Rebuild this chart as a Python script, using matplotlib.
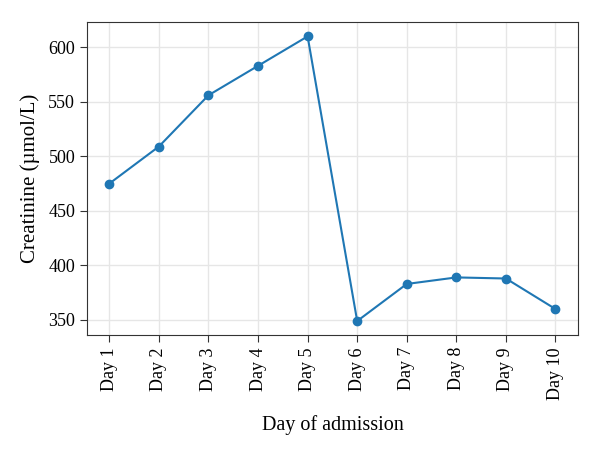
import matplotlib
matplotlib.use("Agg")
import matplotlib.pyplot as plt

# Creatinine per day of admission
days = ["Day 1", "Day 2", "Day 3", "Day 4", "Day 5",
        "Day 6", "Day 7", "Day 8", "Day 9", "Day 10"]
creatinine = [475, 509, 556, 583, 610, 349, 383, 389, 388, 360]
yticks = [350, 400, 450, 500, 550, 600]

plt.rcParams['font.family'] = ['Liberation Serif', 'DejaVu Serif']
plt.rcParams['font.size'] = 13

fig = plt.figure(figsize=(6, 4.53), dpi=100)
ax = fig.add_axes([0.145, 0.26, 0.818, 0.691])

x = list(range(len(days)))
ax.plot(x, creatinine, color='#1f77b4', marker='o', markersize=6, linewidth=1.5)

ax.set_xticks(x)
ax.set_xticklabels(days, rotation=90)
ax.set_yticks(yticks)
ax.set_xlim(-0.45, 9.45)
ax.set_ylim(336, 623)
ax.grid(True, color='#e6e6e6', linewidth=1)
ax.set_axisbelow(True)
for s in ax.spines.values():
    s.set_color('#333333')
ax.tick_params(color='#333333', length=5)

ax.set_xlabel('Day of admission', fontsize=14.5, labelpad=11)
ax.set_ylabel('Creatinine (µmol/L)', fontsize=15, labelpad=6)

fig.savefig('out.png', dpi=100)
